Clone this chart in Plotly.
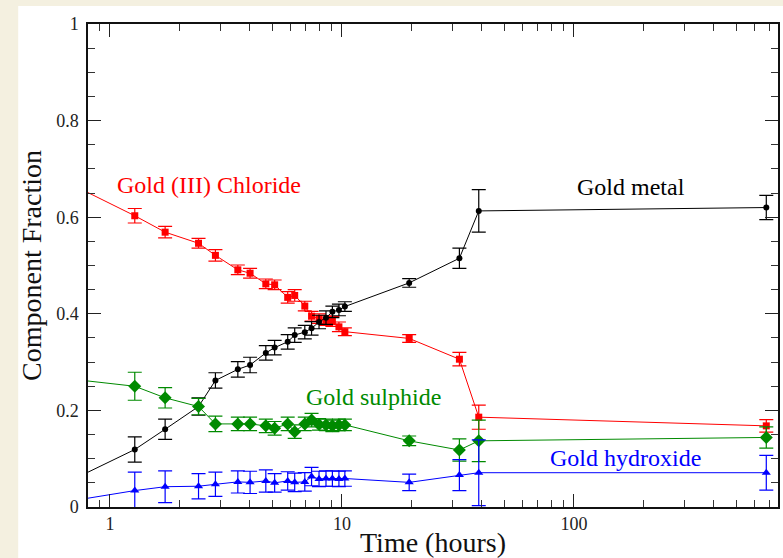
import math
import plotly.graph_objects as go

# Sampling times (hours); the first entry is the initial composition
times = [0.5, 1.28, 1.73, 2.41, 2.85, 3.56, 4.02, 4.70, 5.13, 5.84, 6.26, 6.92,
         7.40, 7.97, 8.54, 9.10, 9.71, 10.3, 19.5, 32.1, 38.9, 675]

chloride = [0.700, 0.603, 0.569, 0.546, 0.521, 0.491, 0.484, 0.462, 0.460, 0.434,
            0.438, 0.416, 0.395, 0.390, 0.386, 0.384, 0.373, 0.363, 0.349, 0.306,
            0.186, 0.168]
chloride_err = [0, 0.015, 0.012, 0.010, 0.012, 0.010, 0.010, 0.010, 0.010, 0.012,
                0.012, 0.010, 0.010, 0.010, 0.010, 0.010, 0.010, 0.008, 0.008,
                0.014, 0.025, 0.013]

metal = [0.024, 0.119, 0.161, 0.208, 0.262, 0.285, 0.294, 0.319, 0.330, 0.342,
         0.356, 0.362, 0.370, 0.383, 0.392, 0.404, 0.408, 0.415, 0.464, 0.515,
         0.613, 0.620]
metal_err = [0, 0.026, 0.021, 0.018, 0.016, 0.016, 0.016, 0.015, 0.015, 0.015,
             0.015, 0.014, 0.014, 0.014, 0.014, 0.012, 0.012, 0.010, 0.009, 0.021,
             0.044, 0.025]

sulphide = [0.272, 0.250, 0.226, 0.208, 0.172, 0.172, 0.172, 0.168, 0.163, 0.172,
            0.156, 0.172, 0.180, 0.171, 0.170, 0.168, 0.170, 0.170, 0.137, 0.118,
            0.137, 0.144]
sulphide_err = [0, 0.029, 0.021, 0.017, 0.016, 0.014, 0.014, 0.014, 0.014, 0.014,
                0.014, 0.014, 0.014, 0.012, 0.012, 0.012, 0.012, 0.012, 0.010,
                0.023, 0.043, 0.022]

hydroxide = [0.002, 0.034, 0.042, 0.043, 0.047, 0.052, 0.051, 0.054, 0.050, 0.054,
             0.051, 0.052, 0.063, 0.058, 0.059, 0.059, 0.058, 0.059, 0.051, 0.066,
             0.071, 0.071]
hydroxide_err = [0, 0.038, 0.033, 0.026, 0.025, 0.023, 0.023, 0.023, 0.019, 0.019,
                 0.019, 0.019, 0.019, 0.016, 0.016, 0.016, 0.016, 0.016, 0.017,
                 0.032, 0.068, 0.036]

series = [
    ("Gold (III) Chloride", chloride, chloride_err, "#ff0000", "square", 7),
    ("Gold metal", metal, metal_err, "#000000", "circle", 6),
    ("Gold sulphide", sulphide, sulphide_err, "#008a00", "diamond", 10),
    ("Gold hydroxide", hydroxide, hydroxide_err, "#0000ff", "triangle-up", 8),
]

# Series labels: text, time (hours), fraction, colour
labels = [
    ("Gold (III) Chloride", 2.68, 0.667, "#ff0000"),
    ("Gold metal", 176, 0.663, "#000000"),
    ("Gold sulphide", 13.7, 0.228, "#008a00"),
    ("Gold hydroxide", 167, 0.101, "#0000ff"),
]

SERIF = "Liberation Serif"

fig = go.Figure()
for name, vals, errs, color, symbol, size in series:
    fig.add_trace(go.Scatter(
        x=times, y=vals, name=name, mode="lines+markers",
        line=dict(color=color, width=1),
        marker=dict(color=color, symbol=symbol, size=size, line=dict(width=0)),
        error_y=dict(type="data", array=errs, visible=True, color=color,
                     thickness=1.2, width=7),
        showlegend=False,
    ))

# annotation x on a log axis is given as the exponent
for text, x, y, color in labels:
    fig.add_annotation(x=math.log10(x), y=y, xref="x", yref="y", text=text,
                       showarrow=False,
                       font=dict(family=SERIF, size=24, color=color))

# White page with a thin beige strip along the top and left edges
fig.add_shape(type="rect", xref="paper", yref="paper",
              x0=-70 / 692, x1=1.01, y0=-51 / 483, y1=1 + 18 / 483,
              fillcolor="white", line=dict(width=0), layer="below")

fig.update_layout(
    width=783, height=558,
    margin=dict(l=88, r=3, t=24, b=51),
    paper_bgcolor="#f4f0e0",
    plot_bgcolor="white",
    font=dict(family=SERIF, color="#111111"),
    xaxis=dict(
        type="log", range=[-0.0944, 2.8798],
        tickvals=[1, 10, 100], ticktext=["1", "10", "100"],
        ticks="inside", ticklen=13, tickwidth=1.3, tickcolor="#222",
        minor=dict(ticks="inside", ticklen=7, tickwidth=1, tickcolor="#333",
                   dtick="D1"),
        showline=True, linecolor="#111", linewidth=1.5, mirror="ticks",
        showgrid=False, zeroline=False,
        tickfont=dict(family=SERIF, size=18, color="#222"),
        title=dict(text="Time (hours)", font=dict(family=SERIF, size=28, color="#111"),
                   standoff=0),
    ),
    yaxis=dict(
        range=[0, 1], dtick=0.2, tick0=0,
        ticks="inside", ticklen=13, tickwidth=1.3, tickcolor="#222",
        minor=dict(ticks="inside", ticklen=7, tickwidth=1, tickcolor="#333",
                   dtick=0.05),
        showline=True, linecolor="#111", linewidth=1.5, mirror="ticks",
        showgrid=False, zeroline=False,
        ticklabelstandoff=4,
        tickfont=dict(family=SERIF, size=18, color="#222"),
        title=dict(text="Component Fraction",
                   font=dict(family=SERIF, size=28, color="#111"), standoff=6),
    ),
)

fig.write_html("out.html")
